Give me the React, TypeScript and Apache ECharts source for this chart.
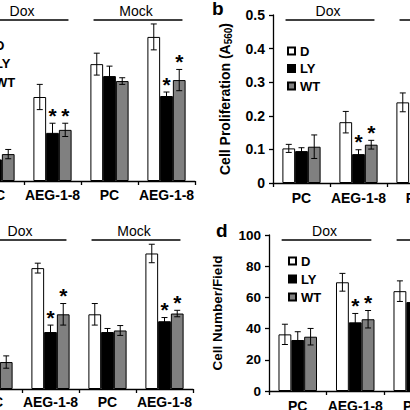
import React, { useEffect, useRef } from 'react';
import * as echarts from 'echarts';

const FONT = "'Liberation Sans', Arial, Helvetica, sans-serif";

const categories = ['PC', 'AEG-1-8', 'PC', 'AEG-1-8'];
const groups = ['Dox', 'Mock'];
const seriesNames = ['D', 'LY', 'WT'];
const seriesColors = ['#ffffff', '#000000', '#808080'];

// Panel a (proliferation, A560) — left part cropped
const aD = [null, 0.253, 0.352, 0.434];
const aLY = [0.065, 0.145, 0.316, 0.256];
const aWT = [0.081, 0.154, 0.301, 0.304];
const aErrD = [null, 0.038, 0.033, 0.039];
const aErrLY = [0.012, 0.029, 0.03, 0.012];
const aErrWT = [0.014, 0.02, 0.01, 0.032];
const aStarLY = [0, 1, 0, 1];
const aStarWT = [0, 1, 0, 1];

// Panel b (Cell Proliferation, A560) — right part cropped
const bTicks = [0, 0.1, 0.2, 0.3, 0.4, 0.5];
const bD = [0.103, 0.181, 0.24, null];
const bLY = [0.095, 0.086, null, null];
const bWT = [0.108, 0.114, null, null];
const bErrD = [0.012, 0.032, 0.028, null];
const bErrLY = [0.01, 0.013, null, null];
const bErrWT = [0.035, 0.013, null, null];
const bStarLY = [0, 1, 0, 0];
const bStarWT = [0, 1, 0, 0];

// Panel c (cell number) — left part cropped
const cD = [null, 78.5, 48.5, 88];
const cLY = [null, 37, 37, 44];
const cWT = [17.5, 48.5, 38, 49];
const cErrD = [null, 3.2, 7, 6];
const cErrLY = [null, 4.5, 2.3, 2.4];
const cErrWT = [4, 7, 3.2, 2.1];
const cStarLY = [0, 1, 0, 1];
const cStarWT = [0, 1, 0, 1];

// Panel d (Cell Number/Field) — right part cropped
const dTicks = [0, 20, 40, 60, 80, 100];
const dD = [36.3, 69.7, 64, null];
const dLY = [32.7, 44, 57, null];
const dWT = [34.8, 46, null, null];
const dErrD = [6.5, 5.7, 6.6, null];
const dErrLY = [5.3, 5.7, null, null];
const dErrWT = [5.3, 5.6, null, null];
const dStarLY = [0, 1, 0, 0];
const dStarWT = [0, 1, 0, 0];

type Arr = (number | null)[];

const panels = [
  {
    grid: { left: -33, top: 15, width: 228, height: 166 },
    max: 0.5, interval: 0.1, showY: false, labelMargin: 7,
    vals: [aD, aLY, aWT], errs: [aErrD, aErrLY, aErrWT], stars: [[0, 0, 0, 0], aStarLY, aStarWT],
  },
  {
    grid: { left: 273, top: 15, width: 228, height: 168 },
    max: bTicks[bTicks.length - 1], interval: bTicks[1] - bTicks[0], showY: true, labelMargin: 8,
    yName: '{m|Cell Proliferation (A}{s|560}{m|)}', nameGap: 40, nameSize: 14,
    vals: [bD, bLY, bWT], errs: [bErrD, bErrLY, bErrWT], stars: [[0, 0, 0, 0], bStarLY, bStarWT],
  },
  {
    grid: { left: -35, top: 235, width: 228, height: 154 },
    max: 100, interval: 20, showY: false, labelMargin: 6,
    vals: [cD, cLY, cWT], errs: [cErrD, cErrLY, cErrWT], stars: [[0, 0, 0, 0], cStarLY, cStarWT],
  },
  {
    grid: { left: 269, top: 235, width: 230, height: 156 },
    max: dTicks[dTicks.length - 1], interval: dTicks[1] - dTicks[0], showY: true, labelMargin: 8,
    yName: '{m|Cell Number/Field}', nameGap: 37, nameSize: 13.5,
    vals: [dD, dLY, dWT], errs: [dErrD, dErrLY, dErrWT], stars: [[0, 0, 0, 0], dStarLY, dStarWT],
  },
];

const errRender = (_params: any, api: any) => {
  const cat = api.value(0);
  const s = api.value(1);
  const v = api.value(2);
  const e = api.value(3);
  const star = api.value(4);
  const band = api.size([1, 0])[0];
  const bw = (band * 0.67) / 3;
  const x = api.coord([cat, v])[0] + (s - 1) * bw;
  const yT = api.coord([cat, v + e])[1];
  const yB = api.coord([cat, v - e])[1];
  const cap = 3;
  const st = { stroke: '#000', lineWidth: 1 };
  const children: any[] = [
    { type: 'line', shape: { x1: x, y1: yT, x2: x, y2: yB }, style: st },
    { type: 'line', shape: { x1: x - cap, y1: yT, x2: x + cap, y2: yT }, style: st },
    { type: 'line', shape: { x1: x - cap, y1: yB, x2: x + cap, y2: yB }, style: st },
  ];
  if (star) {
    children.push({
      type: 'text',
      style: {
        text: '*', x, y: yT - 8, align: 'center', verticalAlign: 'middle',
        fontSize: 21, fontWeight: 'bold', fontFamily: FONT, fill: '#000',
      },
    });
  }
  return { type: 'group', children };
};

const bracketRender = (params: any, api: any) => {
  const s = api.value(0);
  const e = api.value(1);
  const ymax = api.value(2);
  const band = api.size([1, 0])[0];
  const p0 = api.coord([s, ymax]);
  const p1 = api.coord([e, ymax]);
  const x0 = p0[0] - band * 0.28;
  const x1 = p1[0] + band * 0.28;
  const y = p0[1] + 5;
  return {
    type: 'group',
    children: [
      { type: 'line', shape: { x1: x0, y1: y, x2: x1, y2: y }, style: { stroke: '#000', lineWidth: 1.5 } },
      {
        type: 'text',
        style: {
          text: groups[params.dataIndex], x: (x0 + x1) / 2 - 2, y: y - 9, align: 'center',
          verticalAlign: 'middle', fontSize: 14, fontFamily: FONT, fill: '#000',
        },
      },
    ],
  };
};

function buildOption() {
  const grid: any[] = [];
  const xAxis: any[] = [];
  const yAxis: any[] = [];
  const series: any[] = [];
  panels.forEach((p: any, i: number) => {
    grid.push({ ...p.grid, containLabel: false, outerBoundsMode: 'none' });
    xAxis.push({
      type: 'category', gridIndex: i, data: categories,
      axisLine: { lineStyle: { color: '#000', width: 1.3 } },
      axisTick: { show: true, length: 4, lineStyle: { color: '#000', width: 1.3 } },
      axisLabel: { color: '#000', fontWeight: 'bold', fontSize: 14, fontFamily: FONT, margin: p.labelMargin, interval: 0, hideOverlap: false },
    });
    yAxis.push({
      type: 'value', gridIndex: i, min: 0, max: p.max, interval: p.interval,
      splitLine: { show: false },
      axisLine: { show: true, lineStyle: { color: '#000', width: 1.3 } },
      axisTick: { show: true, length: 4, lineStyle: { color: '#000', width: 1.3 } },
      axisLabel: { show: p.showY, color: '#000', fontWeight: 'bold', fontSize: i === 1 ? 14 : 13.5, fontFamily: FONT, margin: 8 },
      name: p.yName || '',
      nameLocation: 'middle',
      nameRotate: 90,
      nameGap: p.nameGap || 30,
      nameTextStyle: {
        color: '#000', fontFamily: FONT, fontWeight: 'bold', fontSize: p.nameSize || 14,
        rich: {
          m: { fontSize: p.nameSize || 14, fontWeight: 'bold', fontFamily: FONT, color: '#000', lineHeight: 14, padding: [0, 0, 3, 0] },
          s: { fontSize: 10, fontWeight: 'bold', fontFamily: FONT, color: '#000', lineHeight: 10, verticalAlign: 'bottom' },
        },
      },
    });
    seriesNames.forEach((n, s) => {
      series.push({
        type: 'bar', name: n, xAxisIndex: i, yAxisIndex: i, data: p.vals[s],
        barGap: '0%', barCategoryGap: '33%',
        itemStyle: { color: seriesColors[s], borderColor: '#000', borderWidth: 1 },
      });
    });
    const errData: number[][] = [];
    for (let s = 0; s < 3; s++) {
      const vals: Arr = p.vals[s];
      const errs: Arr = p.errs[s];
      vals.forEach((v, c) => {
        if (v != null && errs[c] != null) errData.push([c, s, v, errs[c] as number, p.stars[s][c]]);
      });
    }
    series.push({
      type: 'custom', name: 'err' + i, xAxisIndex: i, yAxisIndex: i,
      renderItem: errRender, data: errData, encode: { x: 0, y: 2 }, clip: false, z: 5,
    });
    series.push({
      type: 'custom', name: 'grp' + i, xAxisIndex: i, yAxisIndex: i,
      renderItem: bracketRender, data: [[0, 1, p.max], [2, 3, p.max]], encode: { x: [0, 1], y: 2 }, clip: false, z: 5,
    });
  });

  const legendBase = {
    data: seriesNames, orient: 'vertical', itemWidth: 7, itemHeight: 7, icon: 'rect',
    selectedMode: false,
    textStyle: { fontSize: 13, fontWeight: 'bold', color: '#000', fontFamily: FONT },
  };

  // panel a's legend is cut by the left edge: only its texts show
  const aLegendY = [45, 63.5, 82];
  const aLegend = seriesNames.map((n, k) => ({
    type: 'text', x: -5, y: aLegendY[k],
    style: { text: n, fontSize: 13, fontWeight: 'bold', fontFamily: FONT, fill: '#000', verticalAlign: 'middle' },
  }));

  return {
    animation: false,
    backgroundColor: '#fff',
    textStyle: { fontFamily: FONT },
    grid, xAxis, yAxis, series,
    legend: [
      { ...legendBase, left: 282, top: 39.5, itemGap: 4.5 },
      { ...legendBase, left: 283, top: 249.5, itemGap: 5 },
    ],
    graphic: [
      ...aLegend,
      { type: 'text', x: 212, y: -1, style: { text: 'b', fontSize: 19, fontWeight: 'bold', fontFamily: FONT, fill: '#000' } },
      { type: 'text', x: 216, y: 221, style: { text: 'd', fontSize: 19, fontWeight: 'bold', fontFamily: FONT, fill: '#000' } },
    ],
  };
}

export default function App() {
  const ref = useRef<HTMLDivElement>(null);
  useEffect(() => {
    if (!ref.current) return;
    const chart = echarts.init(ref.current, undefined, { renderer: 'svg' });
    chart.setOption(buildOption() as any);
    return () => chart.dispose();
  }, []);
  return (
    <div
      ref={ref}
      style={{ position: 'fixed', left: 0, top: 0, width: 410, height: 410, overflow: 'hidden', background: '#fff' }}
    />
  );
}
